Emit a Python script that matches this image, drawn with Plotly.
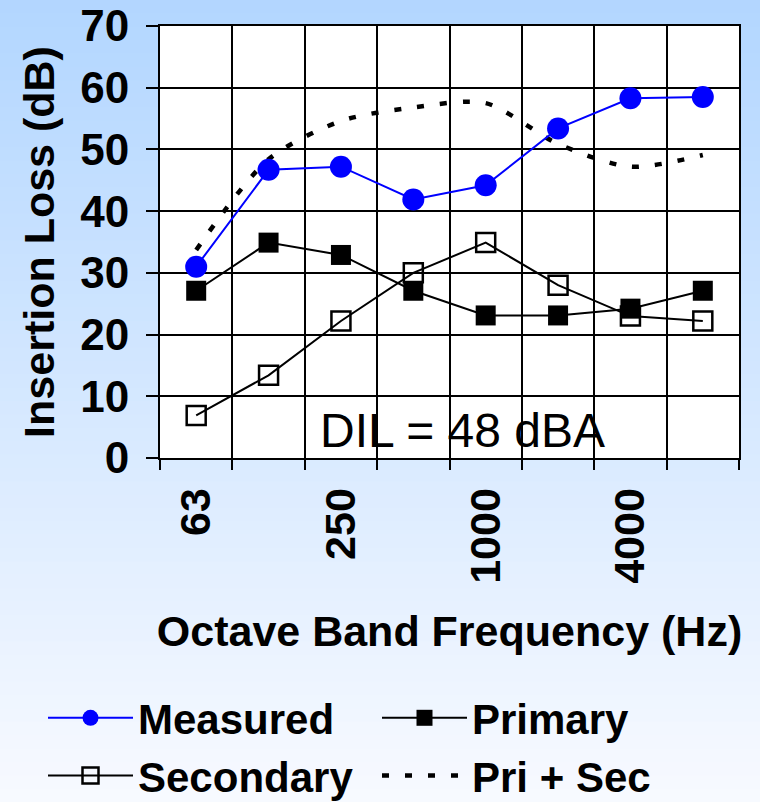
import plotly.graph_objects as go

# ---- data ----
bands = ['63', '125', '250', '500', '1000', '2000', '4000', '8000']
band_labels = ['63', '', '250', '', '1000', '', '4000', '']
measured = [31.0, 46.7, 47.2, 41.9, 44.2, 53.4, 58.3, 58.5]
primary = [27.1, 34.9, 32.9, 27.1, 23.1, 23.1, 24.2, 27.1]
secondary = [6.9, 13.4, 22.2, 30.0, 34.9, 28.0, 23.0, 22.2]
pri_sec = [33.7, 48.4, 54.6, 56.8, 57.5, 50.9, 47.2, 49.1]
y_ticks = [0, 10, 20, 30, 40, 50, 60, 70]
annotation_text = 'DIL = 48 dBA'

FONT = 'Arial, Liberation Sans, sans-serif'
W, H = 760, 802
L, R, T, B = 160, 21, 26, 344

fig = go.Figure()

fig.add_trace(go.Scatter(
    x=bands, y=pri_sec, name='Pri + Sec', mode='lines', legendrank=4,
    line=dict(color='black', width=4.5, dash='7px,16px', shape='spline', smoothing=0.8),
))
fig.add_trace(go.Scatter(
    x=bands, y=secondary, name='Secondary', mode='lines+markers', legendrank=3,
    line=dict(color='black', width=2),
    marker=dict(symbol='square-open', size=19, color='black', line=dict(width=2.5, color='black')),
))
fig.add_trace(go.Scatter(
    x=bands, y=primary, name='Primary', mode='lines+markers', legendrank=2,
    line=dict(color='black', width=2),
    marker=dict(symbol='square', size=20, color='black'),
))
fig.add_trace(go.Scatter(
    x=bands, y=measured, name='Measured', mode='lines+markers', legendrank=1,
    line=dict(color='#0000ff', width=2),
    marker=dict(symbol='circle', size=22, color='#0000ff'),
))

# background gradient (light blue at top -> near white at bottom)
plot_h = H - T - B
plot_w = W - L - R
n_bands = 60
top_c = (178, 214, 255)
bot_c = (248, 250, 255)
shapes = []
for i in range(n_bands):
    y0px = H * i / n_bands
    y1px = H * (i + 1) / n_bands + 1
    f = (i + 0.5) / n_bands
    c = tuple(round(top_c[k] + (bot_c[k] - top_c[k]) * f) for k in range(3))
    shapes.append(dict(
        type='rect', xref='paper', yref='paper', layer='below',
        x0=(0 - L) / plot_w, x1=(W - L) / plot_w,
        y0=(H - B - y1px) / plot_h, y1=(H - B - y0px) / plot_h,
        fillcolor='rgb(%d,%d,%d)' % c, line=dict(width=0),
    ))
# white plotting area
shapes.append(dict(type='rect', xref='paper', yref='paper', layer='below',
                   x0=0, x1=1, y0=0, y1=1, fillcolor='white', line=dict(width=0)))

fig.update_layout(
    width=W, height=H,
    margin=dict(l=L, r=R, t=T, b=B, autoexpand=False),
    paper_bgcolor='rgb(215,232,255)',
    plot_bgcolor='white',
    font=dict(family=FONT, color='black'),
    shapes=shapes,
    showlegend=True,
    legend=dict(
        orientation='h', x=(43 - L) / plot_w, xanchor='left',
        y=(H - B - 684) / plot_h, yanchor='top',
        font=dict(size=42, family=FONT, weight='bold'),
        entrywidth=234, entrywidthmode='pixels',
        itemwidth=85, bgcolor='rgba(0,0,0,0)', tracegroupgap=0,
    ),
    annotations=[dict(
        text=annotation_text, x=0.522, xref='paper', y=4.5, yref='y',
        showarrow=False, xanchor='center', yanchor='middle',
        font=dict(size=48, family=FONT, color='black'),
    )],
)

fig.update_xaxes(
    type='category', categoryorder='array', categoryarray=bands,
    range=[-0.5, len(bands) - 0.5],
    tickmode='array', tickvals=bands, ticktext=band_labels,
    tickson='boundaries', ticks='outside', ticklen=10, tickwidth=2, tickcolor='black',
    tickangle=-90, ticklabelstandoff=11,
    tickfont=dict(size=43, family=FONT, weight='bold'),
    showgrid=True, gridcolor='black', gridwidth=2,
    showline=True, linecolor='black', linewidth=2, mirror=True,
    title=dict(text='Octave Band Frequency (Hz)', standoff=33,
               font=dict(size=43, family=FONT, weight='bold')),
    automargin=False,
)
fig.update_yaxes(
    range=[0, 70], tickmode='array', tickvals=y_ticks,
    ticks='outside', ticklen=12, tickwidth=2, tickcolor='black',
    ticklabelstandoff=8,
    tickfont=dict(size=44, family=FONT, weight='bold'),
    showgrid=True, gridcolor='black', gridwidth=2, zeroline=False,
    showline=True, linecolor='black', linewidth=2, mirror=True,
    title=dict(text='Insertion Loss (dB)', standoff=12,
               font=dict(size=43, family=FONT, weight='bold')),
    automargin=False,
)

fig.write_html(
    'out.html',
    config={'displayModeBar': False},
    post_script="document.body.style.margin='0';document.body.style.overflow='hidden';",
)
